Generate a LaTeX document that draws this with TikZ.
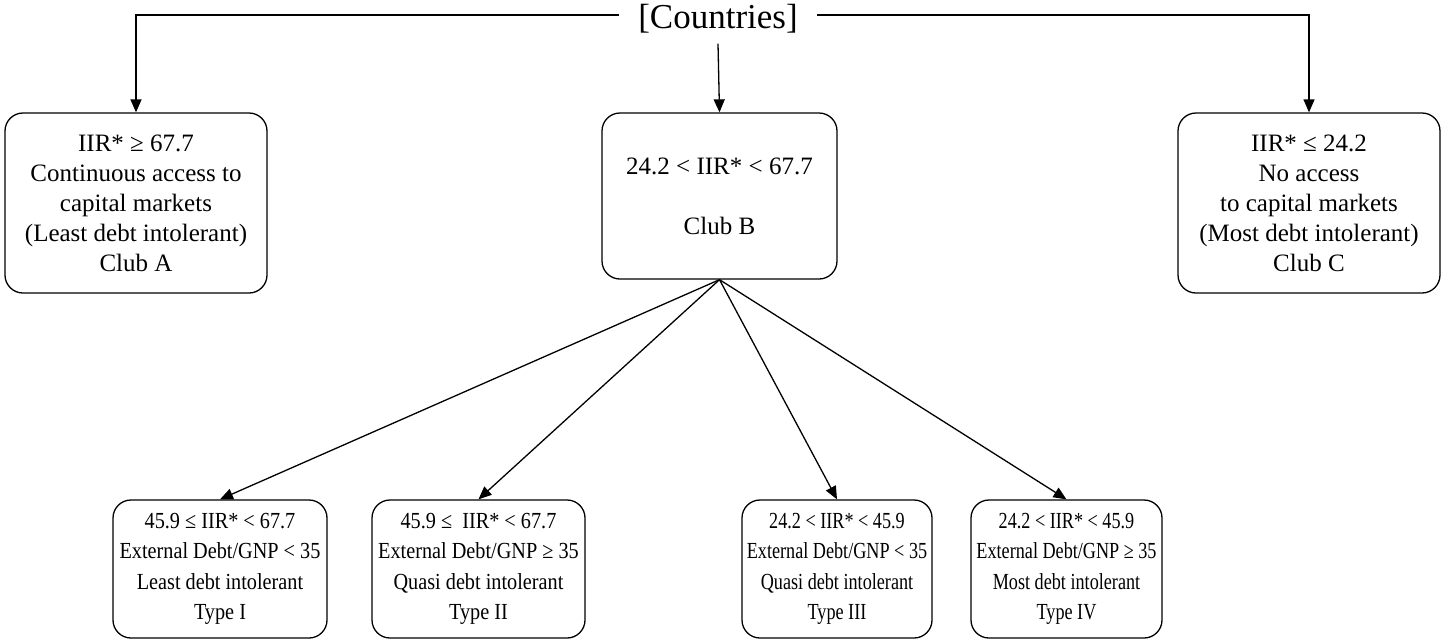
\documentclass[tikz,border=0pt]{standalone}
\usepackage{fontspec}
\setmainfont{Liberation Serif}
\newfontfamily\condA[FakeStretch=0.88]{Liberation Serif}
\newfontfamily\condB[FakeStretch=0.79]{Liberation Serif}
\usetikzlibrary{arrows.meta}
\tikzset{
  box/.style={draw, line width=1.3pt, rounded corners=18pt, inner sep=0pt, align=center},
  topbox/.style={box, font=\fontsize{25}{30}\selectfont},
  botboxA/.style={box, minimum height=138pt, font=\condA\fontsize{23}{30.5}\selectfont},
  botboxB/.style={box, minimum height=138pt, font=\condB\fontsize{23}{30.5}\selectfont},
  conn/.style={line width=1.3pt, -{Triangle[length=13pt,width=11pt]}},
}
\begin{document}
\begin{tikzpicture}[x=1pt,y=-1pt]
\useasboundingbox (0,0) rectangle (1442,641);
\node[font=\fontsize{35}{40}\selectfont, inner xsep=19pt, inner ysep=10pt] (C) at (718,19) {[Countries]};
\node[topbox, minimum width=262pt, minimum height=180pt] (A) at (136,203) {IIR* ≥ 67.7\\Continuous access to\\capital markets\\(Least debt intolerant)\\Club A};
\node[topbox, minimum width=235pt, minimum height=166pt] (B) at (719.5,196) {24.2 < IIR* < 67.7\\[30pt]Club B};
\node[topbox, minimum width=262pt, minimum height=180pt] (Cc) at (1309,203) {IIR* ≤ 24.2\\No access\\to capital markets\\(Most debt intolerant)\\Club C};
\node[botboxA, minimum width=214pt] (T1) at (220,569) {45.9 ≤ IIR* < 67.7\\External Debt/GNP < 35\\Least debt intolerant\\Type I};
\node[botboxA, minimum width=213pt] (T2) at (478.5,569) {45.9 ≤\ \ IIR* < 67.7\\External Debt/GNP ≥ 35\\Quasi debt intolerant\\Type II};
\node[botboxB, minimum width=190pt] (T3) at (837,569) {24.2 < IIR* < 45.9\\External Debt/GNP < 35\\Quasi debt intolerant\\Type III};
\node[botboxB, minimum width=191pt] (T4) at (1066.5,569) {24.2 < IIR* < 45.9\\External Debt/GNP ≥ 35\\Most debt intolerant\\Type IV};
\draw[conn] ([yshift=4pt]C.west) -| (A.north);
\draw[conn] ([yshift=4pt]C.east) -| (Cc.north);
\draw[conn] (C.south) -- (B.north);
\draw[conn] (B.south) -- (T1.north);
\draw[conn] (B.south) -- (T2.north);
\draw[conn] (B.south) -- (T3.north);
\draw[conn] (B.south) -- (T4.north);
\end{tikzpicture}
\end{document}
